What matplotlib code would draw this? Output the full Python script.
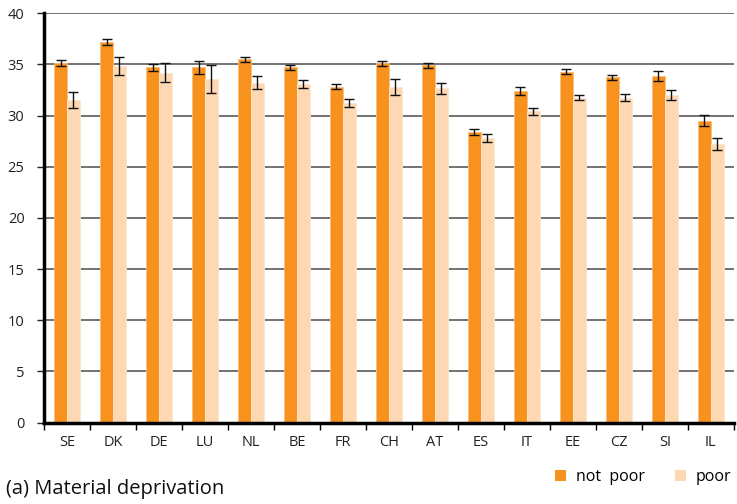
import numpy as np
import matplotlib.pyplot as plt
from matplotlib.patches import Patch

plt.rcParams['font.family'] = ['Open Sans', 'DejaVu Sans']
plt.rcParams['font.size'] = 10.5

countries = ['SE', 'DK', 'DE', 'LU', 'NL', 'BE', 'FR', 'CH', 'AT', 'ES', 'IT', 'EE', 'CZ', 'SI', 'IL']
not_poor = [35.1, 37.2, 34.7, 34.7, 35.5, 34.7, 32.8, 35.1, 34.9, 28.4, 32.4, 34.3, 33.75, 33.85, 29.5]
not_poor_err = [0.3, 0.3, 0.35, 0.6, 0.25, 0.25, 0.25, 0.25, 0.25, 0.3, 0.35, 0.28, 0.26, 0.52, 0.54]
poor = [31.5, 34.85, 34.2, 33.6, 33.2, 33.05, 31.2, 32.8, 32.65, 27.8, 30.4, 31.75, 31.75, 32.0, 27.2]
poor_err = [0.8, 0.85, 0.9, 1.35, 0.65, 0.4, 0.4, 0.75, 0.5, 0.4, 0.3, 0.23, 0.37, 0.49, 0.59]

orange = '#F7921E'
peach = '#FDD8B3'

fig = plt.figure(figsize=(7.37, 5.04), dpi=100)
ax = fig.add_axes([0.0597, 0.1617, 0.936, 0.812])

x = np.arange(len(countries))
w = 0.28
ax.bar(x - w / 2, not_poor, w, color=orange, edgecolor='#FBBE7C', linewidth=0.6, zorder=3)
ax.bar(x + w / 2, poor, w, color=peach, edgecolor='#FEE6CE', linewidth=0.6, zorder=3)
ax.errorbar(x - w / 2, not_poor, yerr=not_poor_err, fmt='none', ecolor='#111111',
            elinewidth=1, capsize=3.5, capthick=1, zorder=4)
ax.errorbar(x + w / 2, poor, yerr=poor_err, fmt='none', ecolor='#111111',
            elinewidth=1, capsize=3.5, capthick=1, zorder=4)

ax.set_xlim(-0.5, len(countries) - 0.5)
ax.set_ylim(0, 40)
ax.set_yticks(range(0, 41, 5))
ax.yaxis.grid(True, color='#5a5a5a', linewidth=1.2, zorder=0)
ax.set_axisbelow(True)

# category labels centred, tick marks between groups
ax.set_xticks(x)
ax.set_xticklabels(countries)
ax.set_xticks(np.arange(-0.5, len(countries), 1), minor=True)
ax.tick_params(axis='x', which='major', length=0, pad=9, colors='#222222')
ax.tick_params(axis='x', which='minor', length=5, width=1, direction='out', color='black')
ax.tick_params(axis='y', length=5, width=1, direction='out', pad=9, colors='#222222')

for side in ['top', 'right']:
    ax.spines[side].set_visible(False)
for side in ['left', 'bottom']:
    ax.spines[side].set_linewidth(2.5)
    ax.spines[side].set_color('black')
    ax.spines[side].set_zorder(5)

handles = [Patch(facecolor=orange, edgecolor='none'), Patch(facecolor=peach, edgecolor='none')]
fig.legend(handles, ['not  poor', 'poor'], ncol=2, frameon=False,
           loc='center right', bbox_to_anchor=(1.012, 0.053),
           handlelength=0.7, handleheight=0.7, handletextpad=0.6,
           columnspacing=1.9, fontsize=11.5)

fig.text(0.008, 0.02, '(a) Material deprivation', fontsize=14.5, color='#111111')

fig.savefig('out.png', dpi=100)
